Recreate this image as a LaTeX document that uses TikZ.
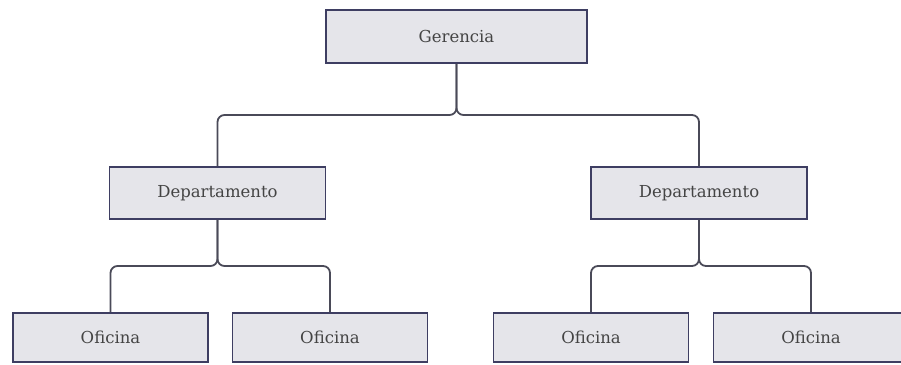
\documentclass[tikz,border=0pt]{standalone}
\usepackage{fontspec}
\setmainfont{DejaVu Serif}
\begin{document}
\begin{tikzpicture}[x=1pt,y=-1pt,
  box/.style={draw=boxline, fill=boxfill, line width=1.8pt, rectangle, inner sep=0pt,
    text=labeltext, font=\fontsize{16.5}{19}\selectfont},
  conn/.style={draw=connline, line width=1.8pt, rounded corners=7pt}]
\definecolor{boxline}{HTML}{3E3E62}
\definecolor{boxfill}{HTML}{E5E5EA}
\definecolor{connline}{HTML}{4A4A58}
\definecolor{labeltext}{HTML}{444444}
\clip (0,0) rectangle (901,364);
\fill[white] (0,0) rectangle (901,364);

% top level
\node[box, minimum width=261pt, minimum height=53pt] (g) at (456.5,36.5) {Gerencia};

% departments
\node[box, minimum width=216pt, minimum height=52pt] (d1) at (217.5,193) {Departamento};
\node[box, minimum width=216pt, minimum height=52pt] (d2) at (699,193) {Departamento};

% offices
\node[box, minimum width=195pt, minimum height=49pt] (o1) at (110.5,337.5) {Oficina};
\node[box, minimum width=195pt, minimum height=49pt] (o2) at (330,337.5) {Oficina};
\node[box, minimum width=195pt, minimum height=49pt] (o3) at (591,337.5) {Oficina};
\node[box, minimum width=195pt, minimum height=49pt] (o4) at (811,337.5) {Oficina};

% junction points of the brackets
\coordinate (j0) at (456.5,115);
\coordinate (j1) at (217.5,266);
\coordinate (j2) at (699,266);

\draw[conn] (g.south) -- (j0) -| (d1.north);
\draw[conn] (g.south) -- (j0) -| (d2.north);
\draw[conn] (d1.south) -- (j1) -| (o1.north);
\draw[conn] (d1.south) -- (j1) -| (o2.north);
\draw[conn] (d2.south) -- (j2) -| (o3.north);
\draw[conn] (d2.south) -- (j2) -| (o4.north);
\end{tikzpicture}
\end{document}
